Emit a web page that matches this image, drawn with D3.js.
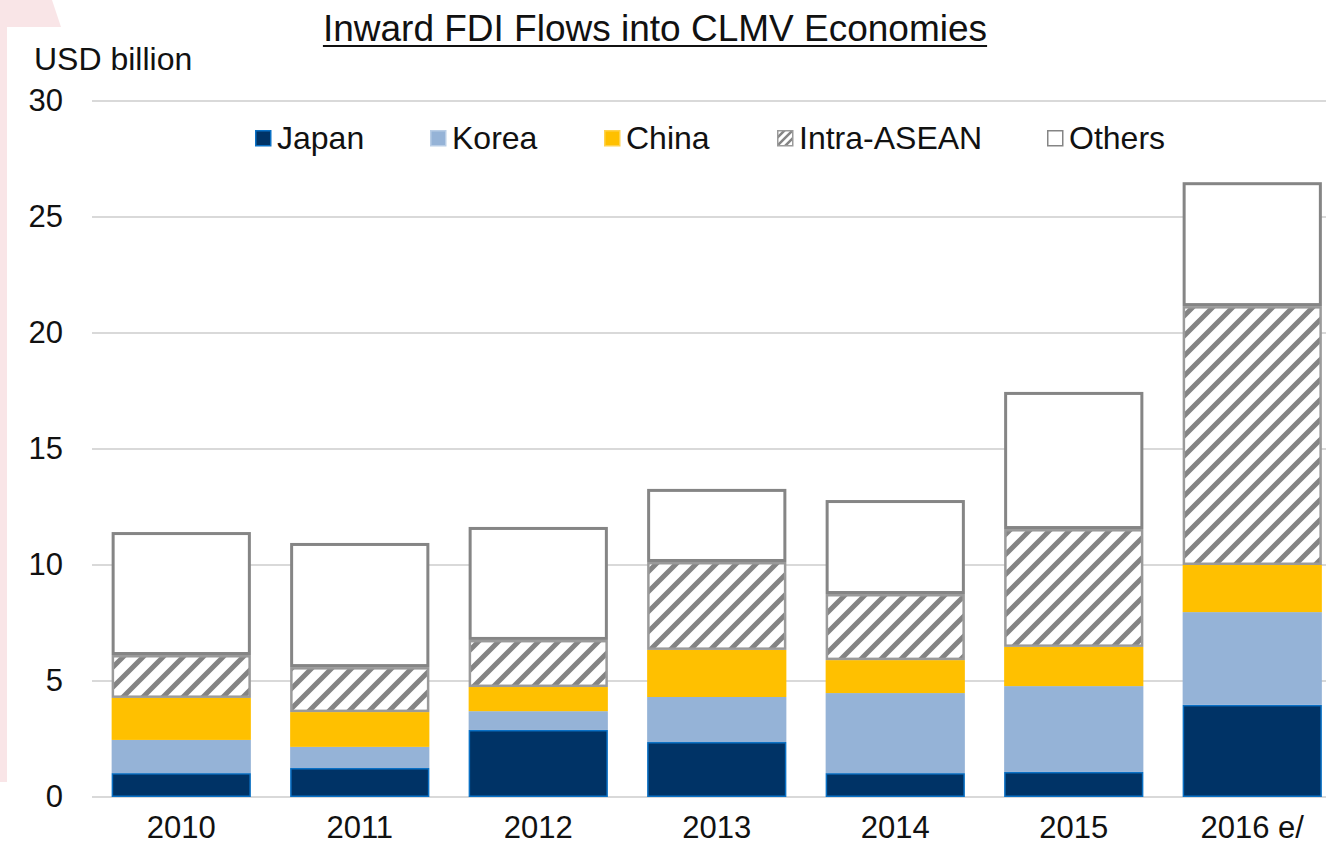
<!DOCTYPE html>
<html>
<head>
<meta charset="utf-8">
<script src="https://cdn.jsdelivr.net/npm/d3@7"></script>
<style>
	body { margin: 0; background: #fff; }
	svg { display: block; font-family: "Liberation Sans", Arial, sans-serif; }
</style>
</head>
<body>
<div class="chart"></div>
<script>
const years = ["2010", "2011", "2012", "2013", "2014", "2015", "2016 e/"];
const seriesNames = ["Japan", "Korea", "China", "Intra-ASEAN", "Others"];
const japan = [1.03, 1.25, 2.89, 2.37, 1.03, 1.08, 3.97];
const korea = [1.43, 0.91, 0.81, 1.94, 3.45, 3.70, 4.00];
const china = [1.81, 1.50, 1.04, 2.03, 1.42, 1.69, 2.03];
const intraAsean = [1.85, 1.94, 2.03, 3.79, 2.85, 5.08, 11.16];
const others = [5.30, 5.35, 4.87, 3.15, 4.05, 5.91, 5.34];
const yTicks = [0, 5, 10, 15, 20, 25, 30];

var w = 1326,
	h = 847,
	svg;

const svgRoot = d3.select(".chart").append("svg").attr("width", w).attr("height", h);

// pink backdrop shape on the left edge
svgRoot
	.append("path")
	.attr("d", "M0,0 L52,0 L61,27 L7,27 L7,782 L0,782 Z")
	.attr("fill", "#f9e5e7");

const defs = svgRoot.append("defs");
const hatch = defs
	.append("pattern")
	.attr("id", "hatch")
	.attr("patternUnits", "userSpaceOnUse")
	.attr("width", 20)
	.attr("height", 20);
hatch.append("rect").attr("width", 20).attr("height", 20).attr("fill", "#fff");
hatch
	.append("path")
	.attr("d", "M-5,5 L5,-5 M0,20 L20,0 M15,25 L25,15")
	.attr("stroke", "#848484")
	.attr("stroke-width", 5);

const smallHatch = defs
	.append("pattern")
	.attr("id", "hatch-small")
	.attr("patternUnits", "userSpaceOnUse")
	.attr("width", 8)
	.attr("height", 8);
smallHatch.append("rect").attr("width", 8).attr("height", 8).attr("fill", "#fff");
smallHatch
	.append("path")
	.attr("d", "M-2,2 L2,-2 M0,8 L8,0 M6,10 L10,6")
	.attr("stroke", "#848484")
	.attr("stroke-width", 2.5);

svg = svgRoot.append("g");

const xScale = d3.scaleBand().domain(years).range([92, 1341.5]).paddingInner(0.22).paddingOuter(0.11);
const yScale = d3.scaleLinear().domain([0, 30]).range([797, 101]);

// gridlines
svg
	.selectAll(".grid")
	.data(yTicks)
	.enter()
	.append("line")
	.attr("class", "grid")
	.attr("x1", 92)
	.attr("x2", w)
	.attr("y1", (d) => yScale(d))
	.attr("y2", (d) => yScale(d))
	.attr("stroke", "#d9d9d9")
	.attr("stroke-width", 2);

const yAxis = d3.axisLeft(yScale).tickValues(yTicks).tickSize(0).tickPadding(29);
const yG = svg.append("g").attr("transform", "translate(92,0)").call(yAxis);
yG.select(".domain").remove();
yG.selectAll("text").attr("font-size", 31).attr("fill", "#111").attr("font-family", "Liberation Sans, Arial, sans-serif");

const xAxis = d3.axisBottom(xScale).tickSize(0).tickPadding(19);
const xG = svg.append("g").attr("transform", "translate(0,797)").call(xAxis);
xG.select(".domain").remove();
xG.selectAll("text").attr("font-size", 31).attr("fill", "#111").attr("font-family", "Liberation Sans, Arial, sans-serif");

// stacked bars
const table = years.map((y, i) => ({
	year: y,
	Japan: japan[i],
	Korea: korea[i],
	China: china[i],
	"Intra-ASEAN": intraAsean[i],
	Others: others[i]
}));
const stacked = d3.stack().keys(seriesNames)(table);

const fills = {
	Japan: "#003366",
	Korea: "#95b3d7",
	China: "#ffc000",
	"Intra-ASEAN": "url(#hatch)",
	Others: "#ffffff"
};
const strokes = {
	Japan: "#0a70c4",
	Korea: "none",
	China: "none",
	"Intra-ASEAN": "#9a9a9a",
	Others: "#858585"
};
const strokeWidths = { Japan: 1.5, Korea: 0, China: 0, "Intra-ASEAN": 2.5, Others: 3 };

stacked.forEach((layer) => {
	const key = layer.key;
	const sw = strokeWidths[key];
	svg
		.append("g")
		.selectAll("rect")
		.data(layer)
		.enter()
		.append("rect")
		.attr("x", (d) => xScale(d.data.year) + sw / 2)
		.attr("width", xScale.bandwidth() - sw)
		.attr("y", (d) => yScale(d[1]) + sw / 2)
		.attr("height", (d) => Math.max(0, yScale(d[0]) - yScale(d[1]) - sw))
		.attr("fill", fills[key])
		.attr("stroke", strokes[key])
		.attr("stroke-width", sw);
});

// title
const title = svg
	.append("text")
	.attr("x", 655)
	.attr("y", 41)
	.attr("text-anchor", "middle")
	.attr("font-size", 37)
	.attr("fill", "#111")
	.text("Inward FDI Flows into CLMV Economies");
const tb = title.node().getBBox();
svg
	.append("line")
	.attr("x1", tb.x)
	.attr("x2", tb.x + tb.width)
	.attr("y1", 46)
	.attr("y2", 46)
	.attr("stroke", "#111")
	.attr("stroke-width", 2);

svg
	.append("text")
	.attr("x", 34)
	.attr("y", 70)
	.attr("font-size", 32)
	.attr("fill", "#111")
	.text("USD billion");

// legend
const legendX = [255, 430, 604, 777, 1047];
const legendFill = {
	Japan: "#003366",
	Korea: "#95b3d7",
	China: "#ffc000",
	"Intra-ASEAN": "url(#hatch-small)",
	Others: "#ffffff"
};
const legendStroke = {
	Japan: "#0a70c4",
	Korea: "#b8cde6",
	China: "#ffd24d",
	"Intra-ASEAN": "#9a9a9a",
	Others: "#858585"
};
const legend = svg
	.append("g")
	.attr("id", "legend")
	.selectAll("g")
	.data(seriesNames)
	.enter()
	.append("g")
	.attr("transform", (d, i) => "translate(" + legendX[i] + ",138)");
legend
	.append("rect")
	.attr("x", 0.75)
	.attr("y", -7.25)
	.attr("width", 15)
	.attr("height", 15)
	.attr("fill", (d) => legendFill[d])
	.attr("stroke", (d) => legendStroke[d])
	.attr("stroke-width", 1.5);
legend
	.append("text")
	.attr("x", 22)
	.attr("y", 0)
	.attr("dy", "0.35em")
	.attr("font-size", 32)
	.attr("fill", "#111")
	.text((d) => d);
</script>
</body>
</html>
